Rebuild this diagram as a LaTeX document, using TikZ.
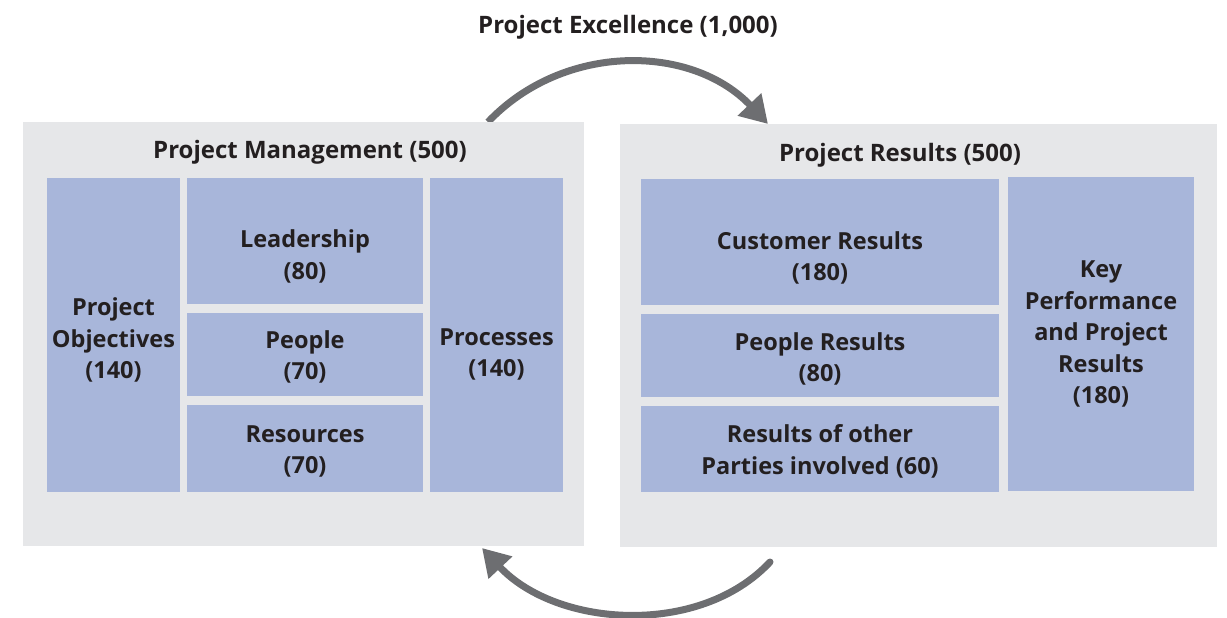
\documentclass[tikz,border=0pt]{standalone}
\usepackage{fontspec}
\setmainfont{Open Sans}
\usetikzlibrary{arrows.meta}
\definecolor{panelgrey}{HTML}{E6E7E9}
\definecolor{tileblue}{HTML}{A8B6DA}
\definecolor{arrowgrey}{HTML}{6D6E71}
\definecolor{inktext}{HTML}{231F20}
\tikzset{
  panel/.style={fill=panelgrey, draw=none},
  tile/.style={fill=tileblue, draw=none},
  lbl/.style={text=inktext, font=\fontsize{23.5}{31.5}\selectfont\bfseries, align=center, inner sep=0pt},
  ttl/.style={lbl, font=\fontsize{24}{31.5}\selectfont\bfseries},
  cyclearrow/.style={draw=arrowgrey, line width=7pt, -{Triangle[length=27pt,width=31pt]}}
}
\begin{document}
\begin{tikzpicture}[x=1pt,y=-1pt]
\useasboundingbox (0,0) rectangle (1227,618);
% right panel first
\fill[panel] (620,124) rectangle (1217,547);
% top arrow
\coordinate (ts) at (488,122);
\coordinate (tc1) at (564,42);
\coordinate (tc2) at (692,44);
\coordinate (te) at (768,124);
\draw[cyclearrow] (ts) .. controls (tc1) and (tc2) .. (te);
% left panel
\fill[panel] (23,122) rectangle (584,546);
% bottom arrow
\coordinate (bs) at (770,562);
\coordinate (bc1) at (700,637);
\coordinate (bc2) at (557,628);
\coordinate (be) at (482,548);
\draw[cyclearrow, line cap=round] (bs) .. controls (bc1) and (bc2) .. (be);

% titles
\node[ttl] (excellence) at (628,27) {Project Excellence (1,000)};
\node[ttl] (pm) at (310,152) {Project Management (500)};
\node[ttl] (pr) at (900,155) {Project Results (500)};

% left tiles
\fill[tile] (47,178) rectangle (180,492);
\fill[tile] (187,178) rectangle (423,304);
\fill[tile] (187,313) rectangle (423,396);
\fill[tile] (187,405) rectangle (423,492);
\fill[tile] (430,178) rectangle (563,492);
% right tiles
\fill[tile] (641,179) rectangle (999,305);
\fill[tile] (641,314) rectangle (999,397);
\fill[tile] (641,406) rectangle (999,492);
\fill[tile] (1008,177) rectangle (1194,491);

% labels
\node[lbl] (obj) at (113.5,340) {Project\\Objectives\\(140)};
\node[lbl] (lead) at (305,256.5) {Leadership\\(80)};
\node[lbl] (people) at (305,357) {People\\(70)};
\node[lbl] (res) at (305,451.5) {Resources\\(70)};
\node[lbl] (proc) at (496.5,354.5) {Processes\\(140)};
\node[lbl] (cust) at (820,258) {Customer Results\\(180)};
\node[lbl] (peopleres) at (820,359) {People Results\\(80)};
\node[lbl] (other) at (820,451.5) {Results of other\\Parties involved (60)};
\node[lbl] (kpi) at (1101,334) {Key\\Performance\\and Project\\Results\\(180)};
\end{tikzpicture}
\end{document}
